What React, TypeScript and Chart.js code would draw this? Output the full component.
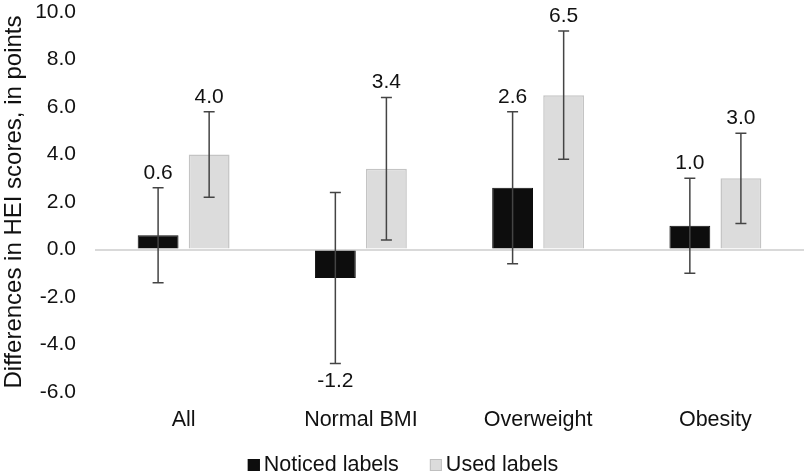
import React, { useEffect, useRef } from "react";
import { Chart, registerables } from "chart.js";

Chart.register(...registerables);

const categories = ["All", "Normal BMI", "Overweight", "Obesity"];
const noticed = [0.6, -1.2, 2.6, 1.0];
const noticedLow = [-1.4, -4.8, -0.6, -1.0];
const noticedHigh = [2.6, 2.4, 5.8, 3.0];
const used = [4.0, 3.4, 6.5, 3.0];
const usedLow = [2.2, 0.4, 3.8, 1.1];
const usedHigh = [5.8, 6.4, 9.2, 4.9];
const seriesNames = ["Noticed labels", "Used labels"];
const yTitle = "Differences in HEI scores, in points";

const FONT = "'Liberation Sans', Arial, sans-serif";

const errorBarPlugin = {
  id: "errorBars",
  afterDatasetsDraw(chart: any) {
    const ctx = chart.ctx;
    const y = chart.scales.y;
    const lows = [noticedLow, usedLow];
    const highs = [noticedHigh, usedHigh];
    const vals = [noticed, used];
    ctx.save();
    chart.data.datasets.forEach((ds: any, di: number) => {
      const meta = chart.getDatasetMeta(di);
      meta.data.forEach((bar: any, i: number) => {
        const x = bar.x;
        const yLo = y.getPixelForValue(lows[di][i]);
        const yHi = y.getPixelForValue(highs[di][i]);
        ctx.strokeStyle = "#444444";
        ctx.lineWidth = 1.5;
        ctx.beginPath();
        ctx.moveTo(x, yLo);
        ctx.lineTo(x, yHi);
        ctx.moveTo(x - 5.5, yLo);
        ctx.lineTo(x + 5.5, yLo);
        ctx.moveTo(x - 5.5, yHi);
        ctx.lineTo(x + 5.5, yHi);
        ctx.stroke();
        const v = vals[di][i];
        ctx.fillStyle = "#111111";
        ctx.font = `21px ${FONT}`;
        ctx.textAlign = "center";
        ctx.textBaseline = "middle";
        const ly = v >= 0 ? yHi - 15 : yLo + 18;
        ctx.fillText(v.toFixed(1), x, ly);
      });
    });
    ctx.restore();
  },
};

const legendPlugin = {
  id: "customLegend",
  afterDraw(chart: any) {
    const ctx = chart.ctx;
    const colors = ["#0d0d0d", "#dcdcdc"];
    const borders = ["#0d0d0d", "#bfbfbf"];
    ctx.save();
    ctx.font = `21.5px ${FONT}`;
    const box = 12;
    const gap = 4;
    const spacing = 31;
    const widths = seriesNames.map((n) => ctx.measureText(n).width);
    const total = widths.reduce((a, w) => a + box + gap + w, 0) + spacing;
    let x = chart.width / 2 - total / 2;
    const cy = 465;
    seriesNames.forEach((n, i) => {
      ctx.fillStyle = colors[i];
      ctx.fillRect(x, cy - box / 2, box, box);
      ctx.strokeStyle = borders[i];
      ctx.lineWidth = 1;
      ctx.strokeRect(x + 0.5, cy - box / 2 + 0.5, box - 1, box - 1);
      ctx.fillStyle = "#111111";
      ctx.textAlign = "left";
      ctx.textBaseline = "middle";
      ctx.fillText(n, x + box + gap, cy);
      x += box + gap + widths[i] + spacing;
    });
    ctx.restore();
  },
};

export default function App() {
  const ref = useRef<HTMLCanvasElement>(null);
  useEffect(() => {
    if (!ref.current) return;
    const chart = new Chart(ref.current, {
      type: "bar",
      data: {
        labels: categories,
        datasets: [
          {
            label: seriesNames[0],
            data: noticed,
            backgroundColor: "#0d0d0d",
            borderColor: "#0d0d0d",
            borderWidth: 1,
            categoryPercentage: 0.576,
            barPercentage: 0.8,
          },
          {
            label: seriesNames[1],
            data: used,
            backgroundColor: "#dcdcdc",
            borderColor: "#c4c4c4",
            borderWidth: 1.5,
            categoryPercentage: 0.576,
            barPercentage: 0.8,
          },
        ],
      },
      options: {
        animation: false,
        responsive: false,
        maintainAspectRatio: false,
        layout: { padding: { top: 0, right: 2, bottom: 0, left: 0 } },
        plugins: {
          legend: { display: false },
          tooltip: { enabled: false },
        },
        scales: {
          x: {
            grid: { display: false, drawTicks: false },
            border: { display: false },
            ticks: {
              color: "#111111",
              font: { family: FONT, size: 21.5 },
              padding: 15,
            },
            afterFit: (s: any) => {
              s.height = 82;
            },
          },
          y: {
            min: -6,
            max: 10,
            border: { display: false },
            grid: {
              drawTicks: false,
              lineWidth: 2,
              color: (c: any) => (c.tick && c.tick.value === 0 ? "#d9d9d9" : "rgba(0,0,0,0)"),
            },
            ticks: {
              stepSize: 2,
              color: "#111111",
              font: { family: FONT, size: 21 },
              padding: 19,
              callback: (v: any) => Number(v).toFixed(1),
            },
            title: {
              display: true,
              text: yTitle,
              color: "#111111",
              font: { family: FONT, size: 24 },
              padding: 0,
            },
            afterFit: (s: any) => {
              s.width = 95;
              s.paddingTop = 12;
              s.paddingBottom = 0;
            },
          },
        },
      },
      plugins: [errorBarPlugin, legendPlugin],
    });
    return () => chart.destroy();
  }, []);
  return (
    <div style={{ position: "fixed", left: 0, top: 0, width: 806, height: 474, background: "#fff" }}>
      <canvas ref={ref} width={806} height={474} style={{ width: 806, height: 474, display: "block" }} />
    </div>
  );
}
